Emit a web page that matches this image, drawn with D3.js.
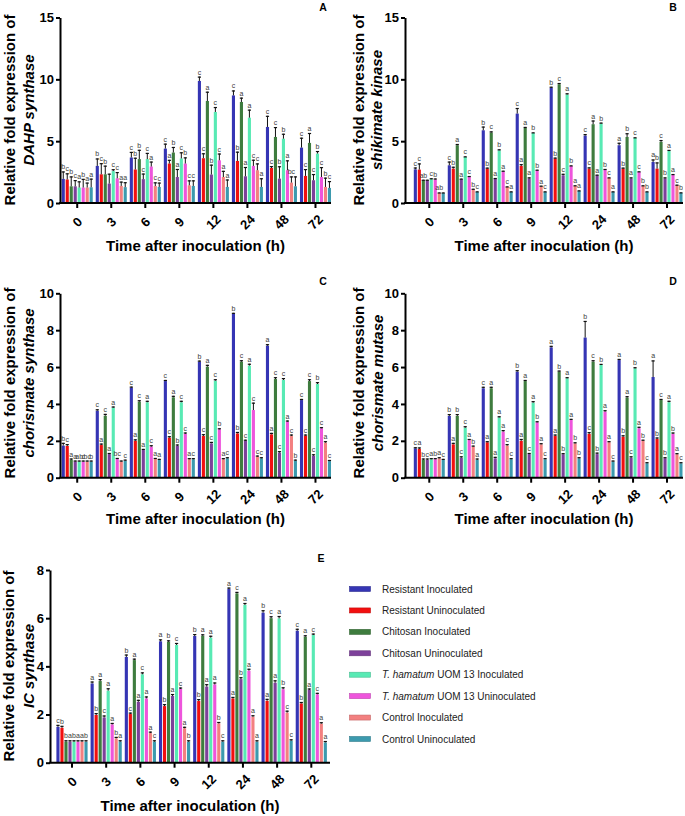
<!DOCTYPE html>
<html><head><meta charset="utf-8">
<script src="https://cdn.jsdelivr.net/npm/d3@7"></script>
<style>
body{margin:0;background:#fff}
svg{display:block}
text{font-family:"Liberation Sans",Arial,Helvetica,sans-serif}
.sigs{opacity:0.99}
</style>
</head><body>
<svg id="chart" width="685" height="816"></svg>
<script>
// ---------- data ----------
const times = ["0","3","6","9","12","24","48","72"];
const seriesNames = ["Resistant Inoculated","Resistant Uninoculated","Chitosan Inoculated","Chitosan Uninoculated",
  "T. hamatum UOM 13 Inoculated","T. hamatum UOM 13 Uninoculated","Control Inoculated","Control Uninoculated"];
const seriesColors = ["#3535b4","#f20f0f","#3e7c3e","#7d409a","#58eab4","#ee55dc","#f38080","#3c9aae"];

// rows = time points, columns = series (same order as seriesNames)
const dahpMean = [
 [1.95,1.90,1.35,1.35,1.25,1.25,1.25,1.27],
 [3.00,2.32,2.32,1.57,2.58,2.00,1.38,1.28],
 [3.68,2.71,3.55,1.93,3.55,2.95,1.37,1.30],
 [4.40,3.19,4.08,2.10,3.60,3.19,1.43,1.38],
 [9.87,3.62,8.25,2.30,7.36,3.45,2.10,1.30],
 [8.70,3.40,8.17,2.16,6.90,3.00,2.65,1.30],
 [6.15,2.83,5.34,1.97,5.20,2.65,1.65,1.35],
 [4.48,2.19,4.86,1.84,4.00,2.10,1.30,1.22]];
const dahpErr = [
 [0.60,0.50,0.80,0.50,0.50,0.70,0.40,0.70],
 [0.60,0.90,0.70,0.80,0.15,0.50,0.35,0.40],
 [0.45,0.95,0.75,0.45,0.50,0.40,0.30,0.35],
 [0.40,0.30,0.45,0.65,0.50,0.50,0.40,0.45],
 [0.35,0.40,0.75,0.80,0.40,0.55,0.50,0.60],
 [0.40,0.75,0.35,0.75,0.65,0.50,0.55,0.70],
 [0.90,0.15,0.80,1.00,0.40,0.80,0.50,0.80],
 [0.80,0.55,0.80,0.50,0.20,0.80,0.75,0.55]];
const dahpSig = [
 ["b","c","b","c","a","b","a","a"],
 ["b","c","b","","c","c","a","a"],
 ["c","b","b","c","c","a","c","c"],
 ["c","a","b","a","c","b","c","c"],
 ["c","c","a","b","c","c","a","a"],
 ["c","b","a","a","a","c","c","a"],
 ["c","c","c","b","b","a","bc",""],
 ["c","c","a","c","b","c","b","c"]];

const skMean = [
 [2.72,2.70,1.83,1.83,1.92,1.90,0.80,0.80],
 [3.05,2.78,4.67,1.92,3.72,2.10,1.10,0.89],
 [5.88,2.78,5.69,1.97,4.26,2.56,1.29,0.89],
 [7.23,2.99,6.07,1.97,5.66,2.64,1.35,0.89],
 [9.30,3.59,9.60,2.24,8.77,2.99,1.38,0.97],
 [5.45,2.78,6.37,2.24,6.42,2.70,2.02,0.89],
 [4.67,2.78,5.34,1.97,5.26,2.51,1.38,0.89],
 [3.32,2.78,4.94,1.97,4.21,2.29,1.43,0.81]];
const skErr = [
 [0.15,0.50,0.05,0.05,0.08,0.08,0.05,0.05],
 [0.30,0.15,0.10,0.05,0.05,0.08,0.05,0.05],
 [0.30,0.08,0.10,0.05,0.08,0.05,0.05,0.05],
 [0.45,0.15,0.08,0.10,0.05,0.05,0.05,0.05],
 [0.10,0.08,0.10,0.12,0.10,0.05,0.05,0.05],
 [0.12,0.10,0.30,0.05,0.08,0.05,0.05,0.05],
 [0.20,0.08,0.30,0.10,0.05,0.05,0.05,0.05],
 [0.20,0.50,0.15,0.10,0.08,0.05,0.05,0.05]];
const skSig = [
 ["c","c","ab","","c","b","ab",""],
 ["c","b","a","a","c","c","b","c"],
 ["b","b","c","a","b","a","c","a"],
 ["c","a","a","a","b","b","a","c"],
 ["b","b","c","c","a","b","a","a"],
 ["c","c","a","a","b","b","c","a"],
 ["a","b","b","a","c","c","b","b"],
 ["a","b","c","b","a","a","c","b"]];

const csMean = [
 [1.74,1.72,0.96,0.87,0.87,0.87,0.87,0.87],
 [3.63,1.77,3.36,1.28,3.80,1.01,0.87,0.92],
 [4.88,2.00,4.12,1.50,4.09,1.68,1.01,0.96],
 [5.24,2.17,4.36,1.72,4.09,2.37,1.00,1.00],
 [6.29,2.26,6.02,1.86,5.26,2.62,1.00,1.05],
 [8.88,2.40,6.29,2.00,6.08,3.67,1.14,1.05],
 [7.16,2.35,5.35,1.36,5.30,3.04,2.26,0.92],
 [4.21,2.28,5.24,1.19,5.08,2.68,1.90,0.90]];
const csErr = [
 [0.15,0.10,0.08,0.06,0.06,0.06,0.06,0.06],
 [0.08,0.08,0.10,0.06,0.06,0.06,0.06,0.06],
 [0.06,0.08,0.08,0.06,0.08,0.08,0.06,0.06],
 [0.06,0.08,0.08,0.08,0.08,0.08,0.06,0.06],
 [0.06,0.10,0.10,0.08,0.08,0.06,0.06,0.06],
 [0.06,0.08,0.08,0.06,0.10,0.40,0.06,0.06],
 [0.08,0.08,0.10,0.08,0.10,0.06,0.08,0.06],
 [0.06,0.06,0.10,0.08,0.10,0.06,0.08,0.06]];
const csSig = [
 ["b","c","a","a","ab","c","bc","b"],
 ["c","a","c","a","a","bc","","c"],
 ["c","a","c","a","a","c","a","a"],
 ["c","c","a","b","c","c","a","c"],
 ["b","c","a","c","c","b","a","c"],
 ["b","b","c","c","a","c","c","c"],
 ["a","a","c","c","c","a","c","b"],
 ["c","c","c","c","b","c","a","c"]];

const cmMean = [
 [1.59,1.56,0.96,0.96,1.00,1.00,1.05,0.96],
 [3.35,1.81,3.35,1.08,2.71,2.04,1.68,0.96],
 [4.85,1.92,4.85,1.05,3.27,2.50,1.74,1.00],
 [5.75,2.00,5.24,1.28,4.07,3.00,1.81,1.00],
 [7.07,2.26,5.75,1.27,5.39,3.13,1.86,1.05],
 [7.60,2.37,6.29,1.28,6.11,3.58,1.92,0.87],
 [6.38,2.22,4.34,1.08,5.93,2.68,2.00,0.78],
 [5.46,2.10,4.21,1.05,4.09,2.37,1.27,0.78]];
const cmErr = [
 [0.06,0.08,0.08,0.08,0.06,0.06,0.06,0.06],
 [0.10,0.08,0.10,0.08,0.08,0.06,0.06,0.08],
 [0.08,0.06,0.08,0.08,0.06,0.08,0.08,0.06],
 [0.08,0.10,0.06,0.06,0.08,0.06,0.06,0.06],
 [0.08,0.08,0.06,0.06,0.06,0.06,0.06,0.06],
 [0.90,0.10,0.08,0.08,0.06,0.08,0.06,0.06],
 [0.06,0.08,0.08,0.08,0.06,0.08,0.06,0.06],
 [0.90,0.08,0.06,0.06,0.08,0.08,0.06,0.06]];
const cmSig = [
 ["c","a","b","c","a","b","a","c"],
 ["b","a","b","c","c","a","b","a"],
 ["c","a","a","a","a","a","c","c"],
 ["b","a","a","c","a","b","a","c"],
 ["a","a","b","b","a","a","b","b"],
 ["b","c","c","b","b","a","a","c"],
 ["a","b","a","c","b","a","b","c"],
 ["a","b","c","b","a","b","a","c"]];

const icMean = [
 [1.49,1.45,0.87,0.87,0.87,0.87,0.87,0.87],
 [3.29,1.98,3.39,1.88,2.99,1.59,1.01,0.87],
 [4.39,2.02,4.26,2.53,3.67,2.67,1.23,0.87],
 [5.04,2.35,5.02,2.77,4.89,3.06,1.43,0.87],
 [5.26,2.56,5.27,3.16,5.19,3.25,1.63,0.87],
 [7.21,2.67,7.03,3.47,6.55,3.82,1.91,0.87],
 [6.23,2.57,6.00,3.32,5.99,3.05,2.08,0.91],
 [5.48,2.46,5.23,3.02,5.30,2.84,1.62,0.84]];
const icErr = [
 [0.08,0.08,0.06,0.06,0.06,0.06,0.06,0.06],
 [0.08,0.08,0.08,0.08,0.10,0.06,0.06,0.06],
 [0.10,0.06,0.06,0.08,0.08,0.08,0.06,0.06],
 [0.08,0.08,0.06,0.08,0.08,0.06,0.06,0.06],
 [0.08,0.08,0.06,0.10,0.08,0.08,0.06,0.06],
 [0.06,0.06,0.06,0.08,0.08,0.08,0.06,0.06],
 [0.10,0.08,0.08,0.10,0.10,0.08,0.08,0.06],
 [0.08,0.06,0.06,0.06,0.06,0.06,0.06,0.06]];
const icSig = [
 ["c","b","b","a","b","a","a","b"],
 ["a","b","a","c","a","a","b","a"],
 ["b","c","a","a","c","a","a","c"],
 ["a","b","b","a","c","c","a","b"],
 ["b","b","a","a","a","a","b","c"],
 ["a","a","c","b","a","a","a","a"],
 ["b","a","c","a","a","b","c","c"],
 ["c","b","a","a","c","c","a","a"]];

const yTicksA = [0,5,10,15];
const yTicksC = [0,2,4,6,8,10];
const yTicksE = [0,2,4,6,8];

// ---------- layout ----------
const panels = [
 {label:"A", mean:dahpMean, err:dahpErr, sig:dahpSig, gene:"DAHP synthase", ymax:15, ticks:yTicksA,
  axisX:60, axisEnd:331, band:[60.2,332.5], yr:[203,17.5], t1:15, t2:34, tc:110, titleY:251, lx:323, ly:11},
 {label:"B", mean:skMean, err:skErr, sig:skSig, gene:"shikimate kinase", ymax:15, ticks:yTicksA,
  axisX:405, axisEnd:683, band:[412.3,684], yr:[203,17.5], t1:364, t2:382, tc:110, titleY:251, lx:673, ly:11},
 {label:"C", mean:csMean, err:csErr, sig:csSig, gene:"chorismate synthase", ymax:10, ticks:yTicksC,
  axisX:60, axisEnd:331, band:[60.2,332.5], yr:[477.7,293.3], t1:15, t2:34, tc:383, titleY:524, lx:323, ly:285},
 {label:"D", mean:cmMean, err:cmErr, sig:cmSig, gene:"chorismate mutase", ymax:10, ticks:yTicksC,
  axisX:405, axisEnd:683, band:[412.3,684], yr:[477.7,293.3], t1:364, t2:383, tc:383, titleY:524, lx:673, ly:285},
 {label:"E", mean:icMean, err:icErr, sig:icSig, gene:"IC synthase", ymax:8, ticks:yTicksE,
  axisX:50, axisEnd:330, band:[54.9,328.4], yr:[762.7,570], t1:14, t2:34, tc:666, titleY:811, lx:321, ly:562}
];

const svg = d3.select("#chart");

panels.forEach(p => {
  const g = svg.append("g");
  const x = d3.scaleBand().domain(times).range(p.band).paddingInner(0.088).paddingOuter(0.044);
  const xs = d3.scaleBand().domain(d3.range(seriesNames.length)).range([0, x.bandwidth()]).paddingInner(0.22);
  const y = d3.scaleLinear().domain([0, p.ymax]).range(p.yr);

  const rows = [];
  times.forEach((t, ti) => seriesNames.forEach((s, si) => {
    rows.push({t, si, v: p.mean[ti][si], e: p.err[ti][si], lab: p.sig[ti][si]});
  }));

  // bars
  g.append("g").selectAll("rect").data(rows).join("rect")
    .attr("x", d => x(d.t) + xs(d.si))
    .attr("width", xs.bandwidth())
    .attr("y", d => y(d.v))
    .attr("height", d => y(0) - y(d.v))
    .attr("fill", d => seriesColors[d.si]);

  // error bars
  const cx = d => x(d.t) + xs(d.si) + xs.bandwidth() / 2;
  const eg = g.append("g");
  eg.selectAll("line.eb").data(rows).join("line").attr("class", "eb")
    .attr("x1", cx).attr("x2", cx)
    .attr("y1", d => y(d.v)).attr("y2", d => y(d.v + d.e))
    .attr("stroke", "#111").attr("stroke-width", 1);
  eg.selectAll("line.cap").data(rows).join("line").attr("class", "cap")
    .attr("x1", d => cx(d) - 1.6).attr("x2", d => cx(d) + 1.6)
    .attr("y1", d => y(d.v + d.e) + 0.5).attr("y2", d => y(d.v + d.e) + 0.5)
    .attr("stroke", "#111").attr("stroke-width", 1.2);

  // significance letters
  g.append("g").attr("class", "sigs").selectAll("text").data(rows).join("text")
    .attr("x", cx).attr("y", d => y(d.v + d.e) - 2)
    .attr("text-anchor", "middle").attr("font-size", 7).attr("fill", "#3a3a3a")
    .text(d => d.lab);

  // y axis
  const ya = g.append("g").attr("transform", `translate(${p.axisX},0)`)
    .call(d3.axisLeft(y).tickValues(p.ticks).tickSize(4).tickSizeOuter(0).tickPadding(2).tickFormat(d3.format("d")));
  ya.select(".domain").attr("stroke-width", 2).attr("stroke", "#000");
  ya.selectAll(".tick line").attr("stroke-width", 2).attr("stroke", "#000");
  ya.selectAll(".tick text").attr("font-size", 13).attr("font-weight", "bold").attr("fill", "#000")
    .attr("font-family", "'Liberation Sans',Arial,sans-serif");

  // x axis
  const xa = g.append("g").attr("transform", `translate(0,${y(0)})`)
    .call(d3.axisBottom(x).tickSize(5).tickSizeOuter(0));
  xa.select(".domain").remove();
  xa.append("line").attr("x1", p.axisX - 1).attr("x2", p.axisEnd).attr("y1", 0).attr("y2", 0)
    .attr("stroke", "#000").attr("stroke-width", 2);
  xa.selectAll(".tick line").attr("stroke-width", 2).attr("stroke", "#000");
  xa.selectAll(".tick text")
    .attr("y", null).attr("dy", "0.35em")
    .attr("transform", "translate(0,19) rotate(-45)")
    .attr("text-anchor", "middle")
    .attr("font-size", 13).attr("font-weight", "bold").attr("fill", "#000")
    .attr("font-family", "'Liberation Sans',Arial,sans-serif");

  // x title
  g.append("text").attr("x", (p.axisX + p.axisEnd) / 2).attr("y", p.titleY)
    .attr("text-anchor", "middle").attr("font-size", 15).attr("font-weight", "bold")
    .text("Time after inoculation (h)");

  // y title (two lines)
  g.append("text").attr("transform", `translate(${p.t1},${p.tc}) rotate(-90)`)
    .attr("text-anchor", "middle").attr("font-size", 15).attr("font-weight", "bold")
    .text("Relative fold expression of");
  g.append("text").attr("transform", `translate(${p.t2},${p.tc}) rotate(-90)`)
    .attr("text-anchor", "middle").attr("font-size", 15).attr("font-weight", "bold")
    .attr("font-style", "italic").text(p.gene);

  // panel letter
  g.append("text").attr("x", p.lx).attr("y", p.ly).attr("text-anchor", "middle")
    .attr("font-size", 10.5).attr("font-weight", "bold").text(p.label);
});

// ---------- legend ----------
const legend = svg.append("g");
const ly = d3.scaleBand().domain(d3.range(seriesNames.length)).range([578.3, 749.7]);
const li = legend.selectAll("g").data(seriesNames).join("g")
  .attr("transform", (d, i) => `translate(0,${ly(i) + ly.bandwidth() / 2})`);
li.append("rect").attr("x", 349.5).attr("y", -2.5).attr("width", 21).attr("height", 5)
  .attr("fill", (d, i) => seriesColors[i])
  .attr("stroke", (d, i) => d3.color(seriesColors[i]).darker(0.6)).attr("stroke-width", 0.6);
li.each(function(d) {
  const t = d3.select(this).append("text").attr("x", 382).attr("y", 3.6)
    .attr("font-size", 10).attr("fill", "#222");
  if (d.startsWith("T. hamatum")) {
    t.append("tspan").attr("font-style", "italic").text("T. hamatum");
    t.append("tspan").text(d.slice("T. hamatum".length));
  } else {
    t.text(d);
  }
});
</script>
</body></html>
